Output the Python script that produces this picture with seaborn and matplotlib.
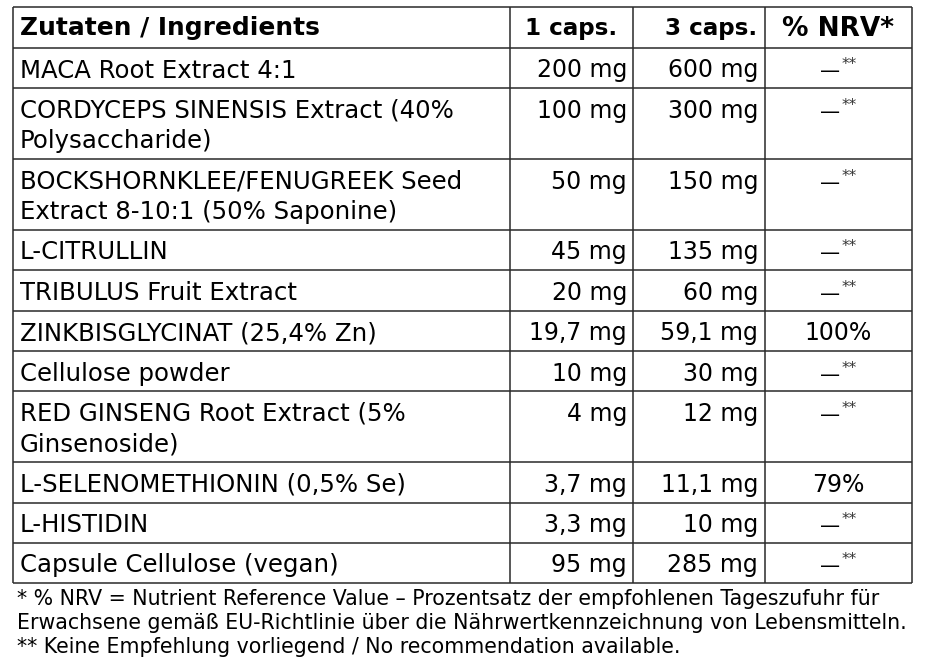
import matplotlib
matplotlib.use("Agg")
import matplotlib.pyplot as plt
import seaborn as sns

# table content
headers = ["Zutaten / Ingredients", "1 caps.", "3 caps.", "% NRV*"]
ingredients = [
    "MACA Root Extract 4:1",
    "CORDYCEPS SINENSIS Extract (40%\nPolysaccharide)",
    "BOCKSHORNKLEE/FENUGREEK Seed\nExtract 8-10:1 (50% Saponine)",
    "L-CITRULLIN",
    "TRIBULUS Fruit Extract",
    "ZINKBISGLYCINAT (25,4% Zn)",
    "Cellulose powder",
    "RED GINSENG Root Extract (5%\nGinsenoside)",
    "L-SELENOMETHIONIN (0,5% Se)",
    "L-HISTIDIN",
    "Capsule Cellulose (vegan)",
]
dose_1 = ["200 mg", "100 mg", "50 mg", "45 mg", "20 mg", "19,7 mg", "10 mg",
          "4 mg", "3,7 mg", "3,3 mg", "95 mg"]
dose_3 = ["600 mg", "300 mg", "150 mg", "135 mg", "60 mg", "59,1 mg", "30 mg",
          "12 mg", "11,1 mg", "10 mg", "285 mg"]
nrv = [None, None, None, None, None, "100%", None, None, "79%", None, None]
footnotes = [
    "* % NRV = Nutrient Reference Value \u2013 Prozentsatz der empfohlenen Tageszufuhr f\u00fcr",
    "Erwachsene gem\u00e4\u00df EU-Richtlinie \u00fcber die N\u00e4hrwertkennzeichnung von Lebensmitteln.",
    "** Keine Empfehlung vorliegend / No recommendation available.",
]

sns.set_theme(style="white")
plt.rcParams["font.family"] = ["DejaVu Sans"]

W, H = 926, 663
fig = plt.figure(figsize=(W / 100, H / 100), dpi=100)
ax = fig.add_axes([0, 0, 1, 1])
ax.set_xlim(0, W)
ax.set_ylim(H, 0)
ax.axis("off")

# layout (pixels)
col_x = [13, 510, 633, 765, 912]
top = 7
header_h = 41
line_h = 30.3
pad_h = 10.1
fs = 17
fs_name = 17.6
edge = "#2a2a2a"

# row boundaries from the number of text lines
bounds = [top, top + header_h]
for name in ingredients:
    n = name.count("\n") + 1
    bounds.append(bounds[-1] + pad_h + line_h * n)

for y in bounds:
    ax.hlines(y, col_x[0], col_x[-1], color=edge, lw=1.1)
for x in col_x:
    ax.vlines(x, bounds[0], bounds[-1], color=edge, lw=1.1)

# header
hy = top + 28.5
ax.text(col_x[0] + 7, hy, headers[0], fontsize=17.9, fontweight="bold",
        va="baseline", ha="left", color="black")
ax.text(col_x[2] - 16, hy, headers[1], fontsize=16.6, fontweight="bold",
        va="baseline", ha="right", color="black")
ax.text(col_x[3] - 8, hy, headers[2], fontsize=16.6, fontweight="bold",
        va="baseline", ha="right", color="black")
ax.text((col_x[3] + col_x[4]) / 2, hy, headers[3], fontsize=19,
        fontweight="bold", va="baseline", ha="center", color="black")

nrv_c = (col_x[3] + col_x[4]) / 2
for i, name in enumerate(ingredients):
    y0 = bounds[i + 1] + 29.5
    for k, part in enumerate(name.split("\n")):
        ax.text(col_x[0] + 7, y0 + k * line_h, part, fontsize=fs_name,
                va="baseline", ha="left", color="black")
    ax.text(col_x[2] - 6, y0, dose_1[i], fontsize=fs, va="baseline",
            ha="right", color="black")
    ax.text(col_x[3] - 7, y0, dose_3[i], fontsize=fs, va="baseline",
            ha="right", color="black")
    if nrv[i] is None:
        ax.text(nrv_c + 1.5, y0, "\u2014", fontsize=14.5, va="baseline",
                ha="right", color="black")
        ax.text(nrv_c + 3, y0 - 8, "**", fontsize=11, va="baseline",
                ha="left", color="#333333")
    else:
        ax.text(nrv_c, y0, nrv[i], fontsize=fs, va="baseline",
                ha="center", color="black")

# footnotes
for k, line in enumerate(footnotes):
    ax.text(17, bounds[-1] + 22 + k * 24, line, fontsize=14.8,
            va="baseline", ha="left", color="black")

fig.savefig("out.png", dpi=100, facecolor="white")
